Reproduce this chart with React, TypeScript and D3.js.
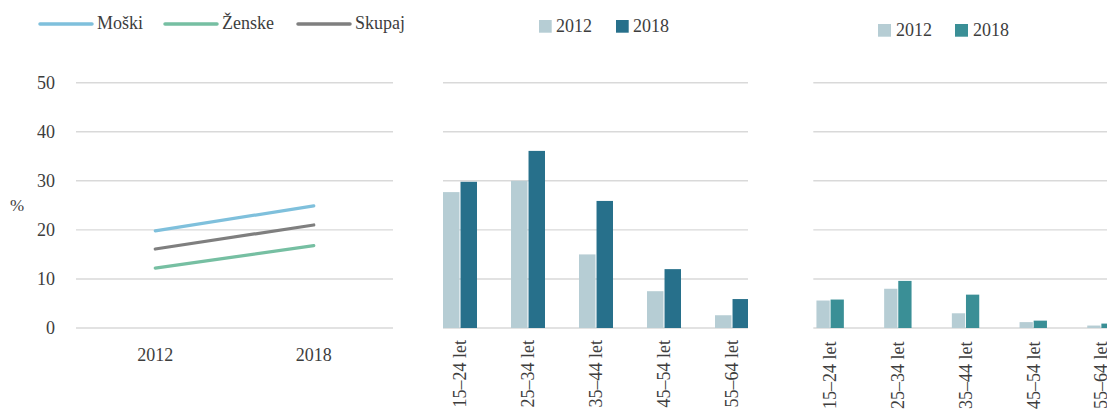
import React from "react";
import * as d3 from "d3";

const years = ["2012", "2018"];
const moski = [19.8, 24.9];
const zenske = [12.2, 16.8];
const skupaj = [16.1, 21.0];
const yTicks = [0, 10, 20, 30, 40, 50];
const ageGroups = ["15–24 let", "25–34 let", "35–44 let", "45–54 let", "55–64 let"];
const mid2012 = [27.7, 30.0, 15.0, 7.5, 2.6];
const mid2018 = [29.8, 36.1, 25.9, 12.0, 5.9];
const right2012 = [5.6, 8.0, 3.0, 1.2, 0.5];
const right2018 = [5.8, 9.6, 6.8, 1.5, 0.9];

const FONT = '"Liberation Serif", "DejaVu Serif", serif';
const TEXT = "#3d3d3d";
const GRID = "#d9d9d9";
const C_M = "#7fc0dc";
const C_Z = "#76bfa2";
const C_S = "#7f7f7f";
const C12 = "#b6cdd4";
const C18a = "#27708b";
const C18b = "#3a8f96";

const tStyle = { fontFamily: FONT, fontSize: 18, fill: TEXT } as const;

const y = d3.scaleLinear().domain([0, 50]).range([328, 82.7]);

function Bars({ x0, x1, gridX0, gridX1, step, barsW, v12, v18, c18, labelTop, id }: any) {
  const xs = d3
    .scaleBand<string>()
    .domain(ageGroups)
    .range([x0, x1])
    .paddingInner(1 - barsW / step)
    .paddingOuter((1 - barsW / step) / 2);
  const xsub = d3.scaleBand<string>().domain(years).range([0, xs.bandwidth()]).paddingInner(0.06);
  return (
    <g>
      <defs>
        <clipPath id={id}>
          <rect x={gridX0} y={0} width={gridX1 - gridX0} height={414} />
        </clipPath>
      </defs>
      {yTicks.map((t) => (
        <line key={t} x1={gridX0} x2={gridX1} y1={y(t)} y2={y(t)} stroke={GRID} strokeWidth={1.4} />
      ))}
      <g clipPath={`url(#${id})`}>
        {ageGroups.map((g, i) => (
          <g key={g}>
            <rect x={xs(g)! + xsub("2012")!} y={y(v12[i])} width={xsub.bandwidth()} height={y(0) - y(v12[i])} fill={C12} />
            <rect x={xs(g)! + xsub("2018")!} y={y(v18[i])} width={xsub.bandwidth()} height={y(0) - y(v18[i])} fill={c18} />
          </g>
        ))}
      </g>
      {ageGroups.map((g) => {
        const cx = xs(g)! + xs.bandwidth() / 2;
        return (
          <text
            key={g}
            transform={`translate(${cx},${labelTop}) rotate(-90)`}
            textAnchor="end"
            dy="0.35em"
            style={tStyle}
          >
            {g}
          </text>
        );
      })}
    </g>
  );
}

export default function App() {
  const xl = d3.scaleBand<string>().domain(years).range([76, 393]);
  const line = d3
    .line<number>()
    .x((_, i) => xl(years[i])! + xl.bandwidth() / 2)
    .y((d) => y(d));
  const series = [
    { name: "Moški", vals: moski, color: C_M, lx: 40 },
    { name: "Ženske", vals: zenske, color: C_Z, lx: 165 },
    { name: "Skupaj", vals: skupaj, color: C_S, lx: 298 },
  ];
  return (
    <svg
      width={1107}
      height={414}
      style={{ position: "absolute", left: 0, top: 0, background: "#fff" }}
    >
      <rect width={1107} height={414} fill="#fff" />
      {series.map((s) => (
        <g key={s.name}>
          <line x1={s.lx} x2={s.lx + 52} y1={24} y2={24} stroke={s.color} strokeWidth={3.5} strokeLinecap="round" />
          <text x={s.lx + 57} y={29} style={tStyle}>
            {s.name}
          </text>
        </g>
      ))}
      {yTicks.map((t) => (
        <g key={t}>
          <line x1={76} x2={393} y1={y(t)} y2={y(t)} stroke={GRID} strokeWidth={1.4} />
          <text x={55} y={y(t)} dy="0.35em" textAnchor="end" style={tStyle}>
            {t}
          </text>
        </g>
      ))}
      <text x={17} y={205} dy="0.35em" textAnchor="middle" style={{ ...tStyle, fontSize: 17 }}>
        %
      </text>
      {years.map((yr) => (
        <text key={yr} x={xl(yr)! + xl.bandwidth() / 2} y={361} textAnchor="middle" style={tStyle}>
          {yr}
        </text>
      ))}
      {series.map((s) => (
        <path key={s.name} d={line(s.vals)!} fill="none" stroke={s.color} strokeWidth={3.2} strokeLinecap="round" />
      ))}

      <rect x={539} y={20} width={12.7} height={12.7} fill={C12} />
      <text x={556} y={31.5} style={tStyle}>2012</text>
      <rect x={616} y={20} width={12.7} height={12.7} fill={C18a} />
      <text x={633} y={31.5} style={tStyle}>2018</text>
      <Bars id="c2" x0={426} x1={766} gridX0={443} gridX1={748} step={68} barsW={34} v12={mid2012} v18={mid2018} c18={C18a} labelTop={340} />

      <rect x={878} y={24} width={13} height={12.7} fill={C12} />
      <text x={896} y={35.5} style={tStyle}>2012</text>
      <rect x={955} y={24} width={13} height={12.7} fill={C18b} />
      <text x={973} y={35.5} style={tStyle}>2018</text>
      <Bars id="c3" x0={796.3} x1={1134.8} gridX0={813.3} gridX1={1107} step={67.7} barsW={27.4} v12={right2012} v18={right2018} c18={C18b} labelTop={341.5} />
    </svg>
  );
}
